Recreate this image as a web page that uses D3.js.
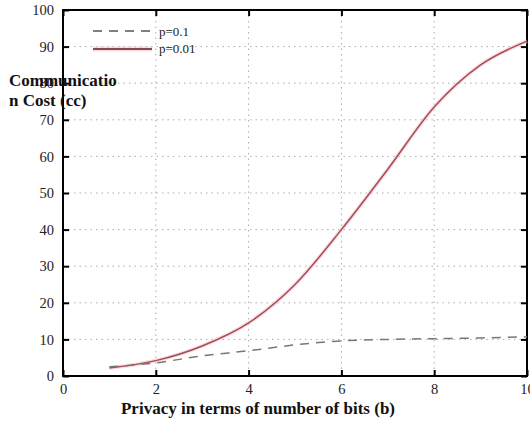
<!DOCTYPE html>
<html><head><meta charset="utf-8">
<script src="https://cdn.jsdelivr.net/npm/d3@7"></script>
<style>body{margin:0;background:#fff}svg{display:block}svg text{font-family:"Liberation Serif","Times New Roman",Times,serif !important}</style>
</head><body>
<svg id="c" width="530" height="426"></svg>
<script>
const bits = [1,2,3,4,5,6,7,8,9,10];
const costP01 = [2.5,3.6,5.5,6.9,8.5,9.6,10.0,10.2,10.4,10.7];
const costP001 = [2.2,4.2,8.2,14.5,25,40,56.5,73.5,85,91.5];
const xTicks = [0,2,4,6,8,10];
const yTicks = [0,10,20,30,40,50,60,70,80,90,100];
const seriesNames = ["p=0.1","p=0.01"];

const svg = d3.select("#c");
const L=63,R=527,T=10,B=376;
const x = d3.scaleLinear().domain([0,10]).range([L,R]);
const y = d3.scaleLinear().domain([0,100]).range([B,T]);

// grid
const g = svg.append("g");
g.selectAll(".hg").data(yTicks.slice(1,-1)).enter().append("line")
 .attr("x1",L).attr("x2",R).attr("y1",d=>y(d)).attr("y2",d=>y(d))
 .attr("stroke","#999").attr("stroke-width",1).attr("stroke-dasharray","1.5,4").attr("opacity",0.8);
g.selectAll(".vg").data(xTicks.slice(1,-1)).enter().append("line")
 .attr("y1",T).attr("y2",B).attr("x1",d=>x(d)).attr("x2",d=>x(d))
 .attr("stroke","#999").attr("stroke-width",1).attr("stroke-dasharray","1.5,4").attr("opacity",0.8);

// axes
const ax = (sel)=>sel.selectAll("text").attr("font-size",14.5).attr("fill","#222");
svg.append("g").attr("transform",`translate(0,${B})`)
 .call(d3.axisBottom(x).tickValues(xTicks).tickSize(-6).tickPadding(8).tickFormat(d3.format("d")))
 .call(s=>{s.select(".domain").remove();s.selectAll("line").attr("stroke","#000").attr("stroke-width",2);ax(s);});
svg.append("g").attr("transform",`translate(0,${T})`)
 .call(d3.axisTop(x).tickValues(xTicks).tickSize(-6).tickFormat(""))
 .call(s=>{s.select(".domain").remove();s.selectAll("line").attr("stroke","#000").attr("stroke-width",2);});
svg.append("g").attr("transform",`translate(${L},0)`)
 .call(d3.axisLeft(y).tickValues(yTicks).tickSize(-6).tickPadding(9).tickFormat(d3.format("d")))
 .call(s=>{s.select(".domain").remove();s.selectAll("line").attr("stroke","#000").attr("stroke-width",2);ax(s);});
svg.append("g").attr("transform",`translate(${R},0)`)
 .call(d3.axisRight(y).tickValues(yTicks).tickSize(-6).tickFormat(""))
 .call(s=>{s.select(".domain").remove();s.selectAll("line").attr("stroke","#000").attr("stroke-width",2);});

svg.append("rect").attr("x",L).attr("y",T).attr("width",R-L).attr("height",B-T)
 .attr("fill","none").attr("stroke","#000").attr("stroke-width",2);

// lines
const line = d3.line().x((d,i)=>x(bits[i])).y(d=>y(d)).curve(d3.curveMonotoneX);
svg.append("path").datum(costP001).attr("d",line).attr("fill","none")
 .attr("stroke","#f4c8cc").attr("stroke-width",4).attr("opacity",0.6);
svg.append("path").datum(costP001).attr("d",line).attr("fill","none")
 .attr("stroke","#a84a58").attr("stroke-width",1.5);
svg.append("path").datum(costP01).attr("d",line).attr("fill","none")
 .attr("stroke","#777").attr("stroke-width",1.5).attr("stroke-dasharray","9,7");

// legend
const lg = svg.append("g");
lg.append("line").attr("x1",93).attr("x2",152).attr("y1",31).attr("y2",31)
 .attr("stroke","#555").attr("stroke-width",1.5).attr("stroke-dasharray","9,7");
lg.append("line").attr("x1",93).attr("x2",152).attr("y1",49).attr("y2",49)
 .attr("stroke","#f4c8cc").attr("stroke-width",5).attr("opacity",0.6);
lg.append("line").attr("x1",93).attr("x2",152).attr("y1",49).attr("y2",49)
 .attr("stroke","#8a4a52").attr("stroke-width",2);
lg.selectAll("text").data(seriesNames).enter().append("text")
 .attr("x",159).attr("y",(d,i)=>36+i*17).text(d=>d)
 .attr("font-size",13).attr("fill","#222");

// axis titles
const yl = svg.append("text").attr("font-size",17).attr("font-weight","bold").attr("fill","#111");
yl.append("tspan").attr("x",9).attr("y",86).text("Communicatio");
yl.append("tspan").attr("x",9).attr("y",106).text("n Cost (cc)");
svg.append("text").attr("x",258).attr("y",414).attr("text-anchor","middle")
 .attr("font-size",17).attr("font-weight","bold").attr("fill","#111")
 .text("Privacy in terms of number of bits (b)");
</script>
</body></html>
